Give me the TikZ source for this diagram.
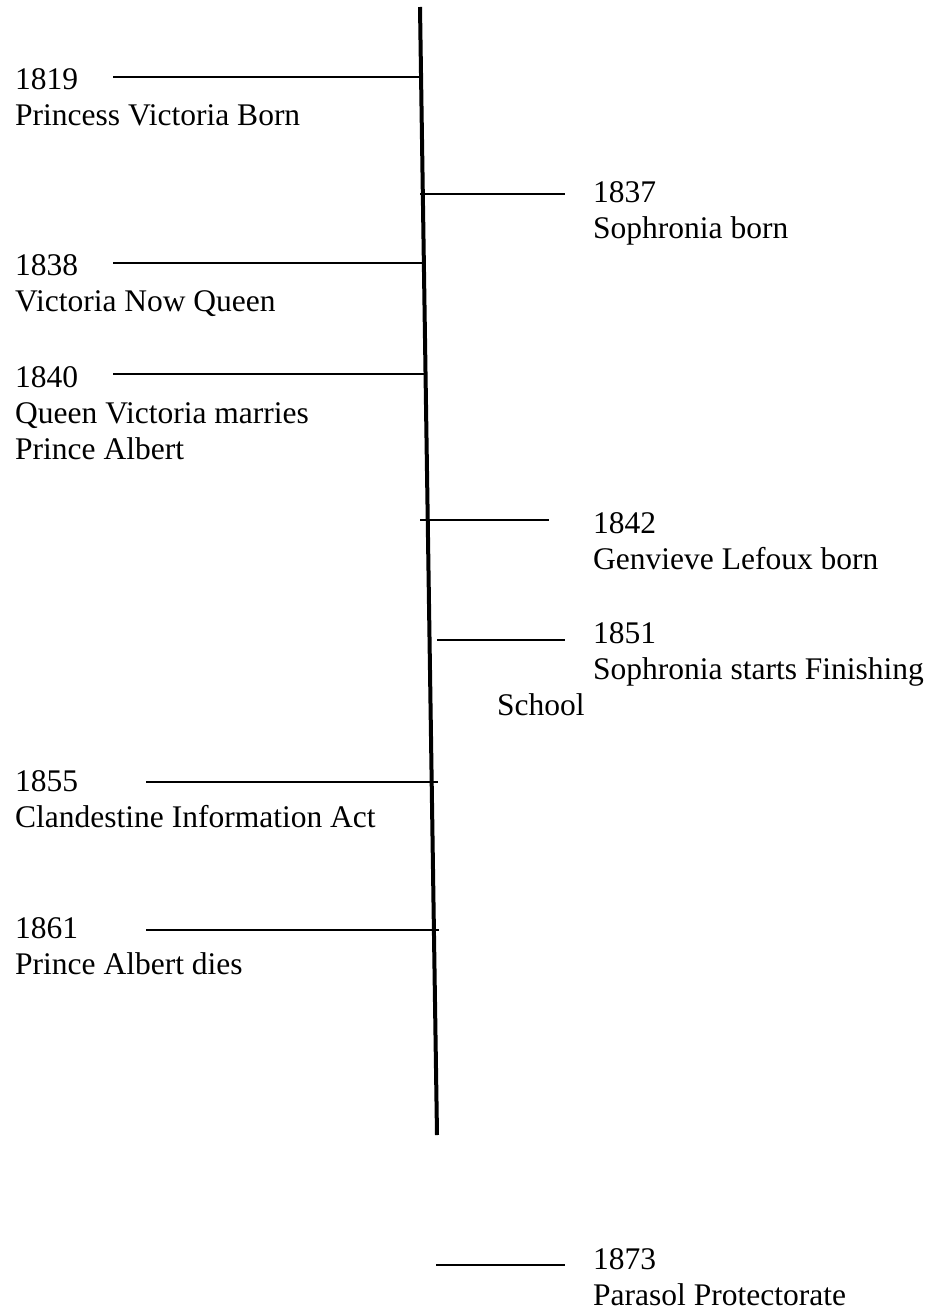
\documentclass[tikz,border=0pt]{standalone}
\usepackage{fontspec}
\setmainfont{Liberation Serif}
\tikzset{
	event/.style={anchor=base west,align=left,inner sep=0pt,font=\fontsize{31.5}{36}\selectfont},
	tick/.style={line width=1.6pt},
	spine/.style={line width=4pt}
}
\begin{document}
\begin{tikzpicture}[x=1pt,y=-1pt]
		\useasboundingbox (0,0) rectangle (940,1311);

		% the time line itself
		\coordinate (top) at (420,7);
		\coordinate (bottom) at (437,1135);
		\draw (top) [spine] -- (bottom);

		% left side (base = last line)
		\node[event] (e1819) at (15,126) {1819\\Princess Victoria Born};
		\node[event] (e1838) at (15,311) {1838\\Victoria Now Queen};
		\node[event] (e1840) at (15,459) {1840\\Queen Victoria marries\\Prince Albert};
		\node[event] (e1855) at (15,827) {1855\\Clandestine Information Act};
		\node[event] (e1861) at (15,974) {1861\\Prince Albert dies};

		% right side
		\node[event] (e1837) at (593,238) {1837\\Sophronia born};
		\node[event] (e1842) at (593,569) {1842\\Genvieve Lefoux born};
		\node[event] (e1851) at (593,715) {1851\\Sophronia starts Finishing\\\hspace*{-96pt}School};
		\node[event] (e1873) at (593,1305) {1873\\Parasol Protectorate};

		\coordinate (a1819) at (113,77);
		\coordinate (b1819) at (421,77);
		\coordinate (a1838) at (113,263);
		\coordinate (b1838) at (423,263);
		\coordinate (a1840) at (113,374);
		\coordinate (b1840) at (424,374);
		\coordinate (a1855) at (146,782);
		\coordinate (b1855) at (438,782);
		\coordinate (a1861) at (146,930);
		\coordinate (b1861) at (439,930);
		\coordinate (a1837) at (420,194);
		\coordinate (b1837) at (565,194);
		\coordinate (a1842) at (420,520);
		\coordinate (b1842) at (549,520);
		\coordinate (a1851) at (437,640);
		\coordinate (b1851) at (565,640);
		\coordinate (a1873) at (436,1265);
		\coordinate (b1873) at (565,1265);

		\draw (a1819) [tick] -- (b1819);
		\draw (a1838) [tick] -- (b1838);
		\draw (a1840) [tick] -- (b1840);
		\draw (a1855) [tick] -- (b1855);
		\draw (a1861) [tick] -- (b1861);
		\draw (a1837) [tick] -- (b1837);
		\draw (a1842) [tick] -- (b1842);
		\draw (a1851) [tick] -- (b1851);
		\draw (a1873) [tick] -- (b1873);
\end{tikzpicture}
\end{document}
